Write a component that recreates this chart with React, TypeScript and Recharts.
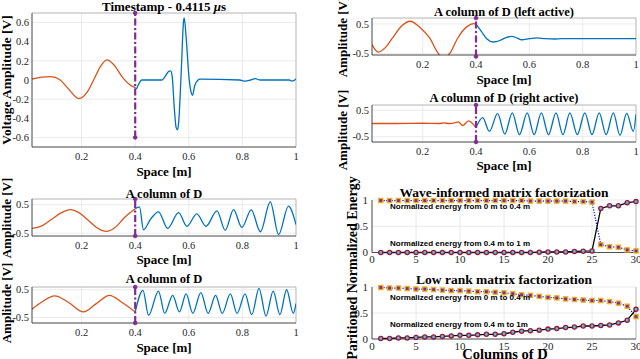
import React from 'react';
import { LineChart, Line, XAxis, YAxis, CartesianGrid, ReferenceLine, ReferenceDot } from 'recharts';

const SERIF = '"Liberation Serif", "Times New Roman", serif';
const SANS = '"Liberation Sans", Arial, sans-serif';
const ORANGE = '#D95319';
const BLUE = '#0072BD';
const PURPLE = '#7E2F8E';
const TICK = '#262626';

// ---------- Panel: Timestamp ----------
const tsOrangeX = [0.015, 0.05, 0.085, 0.12, 0.15, 0.19, 0.22, 0.245, 0.27, 0.295, 0.32, 0.355, 0.38, 0.4];
const tsOrangeY = [0.01, 0.03, 0.035, 0.0, -0.09, -0.195, -0.13, 0.0, 0.14, 0.21, 0.16, 0.02, -0.05, -0.08];
const tsBlueX = [0.4, 0.405, 0.41, 0.425, 0.5, 0.51, 0.525, 0.532, 0.538, 0.546, 0.553, 0.558, 0.562, 0.572, 0.58, 0.583, 0.59, 0.6, 0.608, 0.614, 0.622, 0.635, 0.64, 0.79, 0.81, 0.83, 0.848, 0.865, 0.975, 0.985, 0.995, 1.0];
const tsBlueY = [-0.08, -0.09, -0.06, 0.0, 0.0, 0.03, 0.09, 0.095, 0.04, -0.3, -0.5, -0.52, -0.45, 0.1, 0.6, 0.65, 0.45, 0.05, -0.12, -0.16, -0.06, 0.0, 0.01, 0.0, -0.012, 0.0, 0.015, 0.0, 0.0, -0.012, 0.0, 0.012];

// ---------- Panel: left active ----------
const laOrangeX = [0.01, 0.033, 0.06, 0.085, 0.12, 0.153, 0.19, 0.228, 0.255, 0.278, 0.305, 0.33, 0.365, 0.392, 0.4];
const laOrangeY = [-0.2, -0.45, -0.3, 0.0, 0.42, 0.59, 0.38, 0.0, -0.45, -0.65, -0.45, 0.0, 0.4, 0.51, 0.49];
const laBlueX = [0.4, 0.42, 0.44, 0.465, 0.49, 0.51, 0.534, 0.555, 0.571, 0.6, 0.628, 0.66, 0.696, 0.72, 1.0];
const laBlueY = [0.49, 0.25, 0.0, -0.11, -0.06, 0.03, 0.08, 0.02, -0.035, 0.0, 0.03, 0.0, -0.01, 0.0, 0.0];

// ---------- Panel: right active ----------
const raOrangeX = [0.01, 0.1, 0.2, 0.26, 0.28, 0.3, 0.32, 0.334, 0.35, 0.372, 0.4];
const raOrangeY = [0.0, 0.0, 0.01, 0.0, 0.02, 0.0, 0.02, 0.06, -0.08, 0.1, -0.16];
const raBlueX = [0.4, 0.425, 0.45, 0.481, 0.508, 0.536, 0.563, 0.592, 0.618, 0.645, 0.672, 0.7, 0.726, 0.752, 0.78, 0.808, 0.835, 0.862, 0.888, 0.915, 0.94, 0.965, 0.99, 1.0];
const raBlueY = [-0.16, 0.22, -0.3, 0.37, -0.4, 0.4, -0.42, 0.4, -0.42, 0.4, -0.42, 0.4, -0.42, 0.4, -0.42, 0.4, -0.42, 0.4, -0.42, 0.4, -0.45, 0.38, -0.3, 0.35];

// ---------- Panel: column of D (1) ----------
const c1OrangeX = [0.015, 0.05, 0.09, 0.125, 0.158, 0.19, 0.225, 0.26, 0.292, 0.325, 0.36, 0.4];
const c1OrangeY = [-0.33, -0.25, 0.0, 0.22, 0.33, 0.22, -0.05, -0.33, -0.44, -0.3, 0.05, 0.36];
const c1BlueX = [0.4, 0.416, 0.431, 0.458, 0.487, 0.521, 0.562, 0.593, 0.63, 0.664, 0.705, 0.736, 0.767, 0.798, 0.833, 0.867, 0.904, 0.935, 0.972, 1.0];
const c1BlueY = [0.36, 0.42, -0.38, 0.0, 0.25, -0.33, 0.22, -0.26, 0.18, -0.26, 0.28, -0.4, 0.33, -0.3, 0.32, -0.45, 0.6, -0.55, 0.45, -0.2];

// ---------- Panel: column of D (2) ----------
const c2OrangeX = [0.015, 0.05, 0.1, 0.15, 0.207, 0.255, 0.304, 0.35, 0.4];
const c2OrangeY = [-0.2, 0.05, 0.28, 0.05, -0.3, 0.0, 0.3, 0.05, -0.3];
const c2BlueX = [0.4, 0.429, 0.45, 0.487, 0.51, 0.54, 0.565, 0.59, 0.615, 0.645, 0.672, 0.7, 0.725, 0.755, 0.78, 0.81, 0.835, 0.862, 0.888, 0.915, 0.94, 0.965, 0.99, 1.0];
const c2BlueY = [-0.3, 0.48, -0.42, 0.45, -0.35, 0.3, -0.3, 0.35, -0.35, 0.4, -0.35, 0.3, -0.35, 0.35, -0.35, 0.35, -0.4, 0.55, -0.45, 0.45, -0.4, 0.5, -0.35, 0.0];

// ---------- Energy panels ----------
const columns = [1, 2, 3, 4, 5, 6, 7, 8, 9, 10, 11, 12, 13, 14, 15, 16, 17, 18, 19, 20, 21, 22, 23, 24, 25, 26, 27, 28, 29, 30];
const waveLeftEnergy = [0.99, 0.99, 0.99, 0.99, 0.99, 0.99, 0.99, 0.99, 0.99, 0.99, 0.99, 0.99, 0.99, 0.99, 0.99, 0.99, 0.99, 0.98, 0.98, 0.98, 0.98, 0.98, 0.97, 0.97, 0.96, 0.15, 0.11, 0.10, 0.05, 0.03];
const waveRightEnergy = [0.0, 0.0, 0.0, 0.0, 0.0, 0.0, 0.0, 0.0, 0.0, 0.0, 0.0, 0.0, 0.0, 0.0, 0.0, 0.0, 0.0, 0.0, 0.005, 0.01, 0.01, 0.01, 0.02, 0.025, 0.03, 0.84, 0.89, 0.89, 0.95, 0.97];
const lowLeftEnergy = [0.99, 0.98, 0.98, 0.97, 0.96, 0.96, 0.95, 0.94, 0.93, 0.93, 0.92, 0.91, 0.91, 0.9, 0.89, 0.87, 0.85, 0.84, 0.82, 0.8, 0.79, 0.77, 0.76, 0.75, 0.74, 0.74, 0.72, 0.69, 0.63, 0.43];
const lowRightEnergy = [0.01, 0.01, 0.02, 0.02, 0.03, 0.04, 0.04, 0.05, 0.06, 0.07, 0.07, 0.08, 0.09, 0.09, 0.1, 0.13, 0.15, 0.16, 0.17, 0.19, 0.2, 0.22, 0.23, 0.25, 0.25, 0.26, 0.27, 0.31, 0.36, 0.57];

const spaceTicks = [0.2, 0.4, 0.6, 0.8, 1];
const colTicks = [0, 5, 10, 15, 20, 25, 30];

const zip = (xs: number[], ys: number[]) => xs.map((x, i) => ({ x, y: ys[i] }));
const fmt = (v: number) => String(Math.round(v * 100) / 100);

type WaveProps = {
  l: number; t: number; w: number; h: number;
  xDomain: [number, number]; yDomain: [number, number];
  yTicks: number[];
  orange: { x: number; y: number }[];
  blue: { x: number; y: number }[];
  cursor: [number, number];
  xTickMargin?: number;
};

function WavePanel(p: WaveProps) {
  const YW = 34, XH = 24, RM = 4, TM = 4;
  const tickStyle = { fontFamily: SERIF, fontSize: 10.5, fill: TICK };
  return (
    <div style={{ position: 'absolute', left: p.l - YW, top: p.t - TM }}>
      <LineChart width={p.w + YW + RM} height={p.h + XH + TM} margin={{ top: TM, right: RM, bottom: 0, left: 0 }}>
        <CartesianGrid stroke="#e4e4e4" strokeWidth={0.8} />
        <XAxis type="number" dataKey="x" domain={p.xDomain} ticks={spaceTicks} allowDataOverflow height={XH}
          tickSize={0} tickMargin={p.xTickMargin ?? 6} tick={tickStyle} axisLine={{ stroke: TICK, strokeWidth: 0.8 }} tickFormatter={fmt} />
        <YAxis type="number" dataKey="y" domain={p.yDomain} ticks={p.yTicks} allowDataOverflow width={YW}
          tickSize={0} tickMargin={3} tick={tickStyle} axisLine={{ stroke: TICK, strokeWidth: 0.8 }} tickFormatter={fmt} />
        <ReferenceLine y={p.yDomain[1]} stroke="#9a9a9a" strokeWidth={0.6} />
        <ReferenceLine x={p.xDomain[1]} stroke="#9a9a9a" strokeWidth={0.6} />
        <Line data={p.orange} dataKey="y" stroke={ORANGE} strokeWidth={1.3} dot={false} isAnimationActive={false} type="monotone" />
        <Line data={p.blue} dataKey="y" stroke={BLUE} strokeWidth={1.3} dot={false} isAnimationActive={false} type="monotone" />
        <ReferenceLine segment={[{ x: 0.4, y: p.cursor[0] }, { x: 0.4, y: p.cursor[1] }]} stroke={PURPLE} strokeWidth={2.2}
          strokeDasharray="7 2.5 2 2.5" ifOverflow="visible" />
        <ReferenceDot x={0.4} y={p.cursor[0]} r={1.8} fill={PURPLE} stroke={PURPLE} ifOverflow="visible" />
        <ReferenceDot x={0.4} y={p.cursor[1]} r={1.8} fill={PURPLE} stroke={PURPLE} ifOverflow="visible" />
      </LineChart>
    </div>
  );
}

const SquareDot = (props: any) => {
  const { cx, cy, index } = props;
  if (cx == null || cy == null) return <g key={index} />;
  return <rect key={index} x={cx - 2.1} y={cy - 2.1} width={4.2} height={4.2} fill={PURPLE} stroke="#EDB120" strokeWidth={1.3} />;
};

type EnergyProps = { l: number; t: number; w: number; h: number; left: { x: number; y: number }[]; right: { x: number; y: number }[] };

function EnergyPanel(p: EnergyProps) {
  const YW = 34, XH = 22, RM = 6, TM = 6;
  const tickStyle = { fontFamily: SERIF, fontSize: 11, fill: TICK };
  return (
    <div style={{ position: 'absolute', left: p.l - YW, top: p.t - TM }}>
      <LineChart width={p.w + YW + RM} height={p.h + XH + TM} margin={{ top: TM, right: RM, bottom: 0, left: 0 }}>
        <CartesianGrid stroke="#e4e4e4" strokeWidth={0.8} />
        <XAxis type="number" dataKey="x" domain={[0, 30]} ticks={colTicks} height={XH}
          tickSize={0} tickMargin={3} tick={tickStyle} axisLine={{ stroke: TICK, strokeWidth: 0.8 }} />
        <YAxis type="number" dataKey="y" domain={[0, 1]} ticks={[0, 0.5, 1]} width={YW}
          tickSize={0} tickMargin={4} tick={tickStyle} axisLine={{ stroke: TICK, strokeWidth: 0.8 }} tickFormatter={fmt} />
        <ReferenceLine x={30} stroke="#9a9a9a" strokeWidth={0.6} />
        <Line data={p.left} dataKey="y" stroke="#0000FF" strokeWidth={1.2} strokeDasharray="1.2 1.5" type="linear"
          dot={SquareDot} isAnimationActive={false} />
        <Line data={p.right} dataKey="y" stroke="#000000" strokeWidth={1.3} type="linear"
          dot={{ r: 2.1, fill: '#4DBEEE', stroke: '#A2142F', strokeWidth: 1.3 }} isAnimationActive={false} />
      </LineChart>
    </div>
  );
}

const titleStyle = { fontFamily: SERIF, fontWeight: 700, fill: '#000' } as const;

export default function App() {
  return (
    <div style={{ position: 'absolute', left: 0, top: 0, width: 640, height: 359, background: '#fff', overflow: 'hidden' }}>
      <WavePanel l={32} t={13} w={264} h={134} xDomain={[0.015, 1]} yDomain={[-0.7, 0.7]}
        yTicks={[-0.6, -0.4, -0.2, 0, 0.2, 0.4, 0.6]} orange={zip(tsOrangeX, tsOrangeY)} blue={zip(tsBlueX, tsBlueY)} cursor={[-0.6, 0.7]} />
      <WavePanel l={372} t={18} w={264} h={37} xDomain={[0.01, 1]} yDomain={[-0.55, 0.7]}
        yTicks={[-0.5, 0, 0.5]} orange={zip(laOrangeX, laOrangeY)} blue={zip(laBlueX, laBlueY)} cursor={[-0.6, 0.7]} />
      <WavePanel l={372} t={105} w={264} h={37} xDomain={[0.01, 1]} yDomain={[-0.7, 0.7]}
        yTicks={[-0.5, 0, 0.5]} orange={zip(raOrangeX, raOrangeY)} blue={zip(raBlueX, raBlueY)} cursor={[-0.7, 0.7]} />
      <WavePanel l={32} t={199} w={264} h={37} xDomain={[0.015, 1]} yDomain={[-0.6, 0.7]}
        yTicks={[-0.5, 0, 0.5]} orange={zip(c1OrangeX, c1OrangeY)} blue={zip(c1BlueX, c1BlueY)} cursor={[-0.6, 0.7]} />
      <WavePanel l={32} t={287} w={264} h={36} xDomain={[0.015, 1]} yDomain={[-0.7, 0.6]}
        yTicks={[-0.5, 0, 0.5]} orange={zip(c2OrangeX, c2OrangeY)} blue={zip(c2BlueX, c2BlueY)} cursor={[-0.7, 0.6]} />
      <EnergyPanel l={372} t={200} w={264} h={52.5} left={zip(columns, waveLeftEnergy)} right={zip(columns, waveRightEnergy)} />
      <EnergyPanel l={372} t={287.3} w={264} h={52} left={zip(columns, lowLeftEnergy)} right={zip(columns, lowRightEnergy)} />

      <svg width={640} height={359} style={{ position: 'absolute', left: 0, top: 0, pointerEvents: 'none' }}>
        <text x={164} y={11} textAnchor="middle" fontSize={13} {...titleStyle}>
          Timestamp - 0.4115 <tspan fontStyle="italic">μ</tspan>s
        </text>
        <text x={164} y={176} textAnchor="middle" fontSize={13} {...titleStyle}>Space [m]</text>
        <text transform="translate(11,80) rotate(-90)" textAnchor="middle" fontSize={13.5} {...titleStyle}>Voltage Amplitude [V]</text>

        <text x={504} y={16} textAnchor="middle" fontSize={12.5} {...titleStyle}>A column of D (left active)</text>
        <text x={504} y={84} textAnchor="middle" fontSize={13} {...titleStyle}>Space [m]</text>
        <text transform="translate(347,37) rotate(-90)" textAnchor="middle" fontSize={13} {...titleStyle}>Amplitude [V]</text>

        <text x={504} y={102} textAnchor="middle" fontSize={12.5} {...titleStyle}>A column of D (right active)</text>
        <text x={504} y={170} textAnchor="middle" fontSize={13} {...titleStyle}>Space [m]</text>
        <text transform="translate(347,130) rotate(-90)" textAnchor="middle" fontSize={13} {...titleStyle}>Amplitude [V]</text>

        <text x={164} y={198} textAnchor="middle" fontSize={12.5} {...titleStyle}>A column of D</text>
        <text x={164} y={264} textAnchor="middle" fontSize={13} {...titleStyle}>Space [m]</text>
        <text transform="translate(11,218) rotate(-90)" textAnchor="middle" fontSize={13} {...titleStyle}>Amplitude [V]</text>

        <text x={164} y={283} textAnchor="middle" fontSize={12.5} {...titleStyle}>A column of D</text>
        <text x={164} y={352} textAnchor="middle" fontSize={13} {...titleStyle}>Space [m]</text>
        <text transform="translate(11,303) rotate(-90)" textAnchor="middle" fontSize={13} {...titleStyle}>Amplitude [V]</text>

        <text x={504} y={197} textAnchor="middle" fontSize={13.5} {...titleStyle}>Wave-informed matrix factorization</text>
        <text x={504} y={284} textAnchor="middle" fontSize={13.5} {...titleStyle}>Low rank matrix factorization</text>
        <text x={505} y={359} textAnchor="middle" fontSize={14.5} {...titleStyle}>Columns of D</text>
        <text transform="translate(357,268) rotate(-90)" textAnchor="middle" fontSize={14} {...titleStyle}>Paritioned Normalized Energy</text>

        <text x={390} y={209} fontSize={8} fontFamily={SANS} fontWeight={700} fill="#000">Normalized energy from 0 m to 0.4 m</text>
        <text x={390} y={245.5} fontSize={8} fontFamily={SANS} fontWeight={700} fill="#000">Normalized energy from 0.4 m to 1 m</text>
        <text x={390} y={300} fontSize={8} fontFamily={SANS} fontWeight={700} fill="#000">Normalized energy from 0 m to 0.4 m</text>
        <text x={390} y={327} fontSize={8} fontFamily={SANS} fontWeight={700} fill="#000">Normalized energy from 0.4 m to 1m</text>
      </svg>
    </div>
  );
}
